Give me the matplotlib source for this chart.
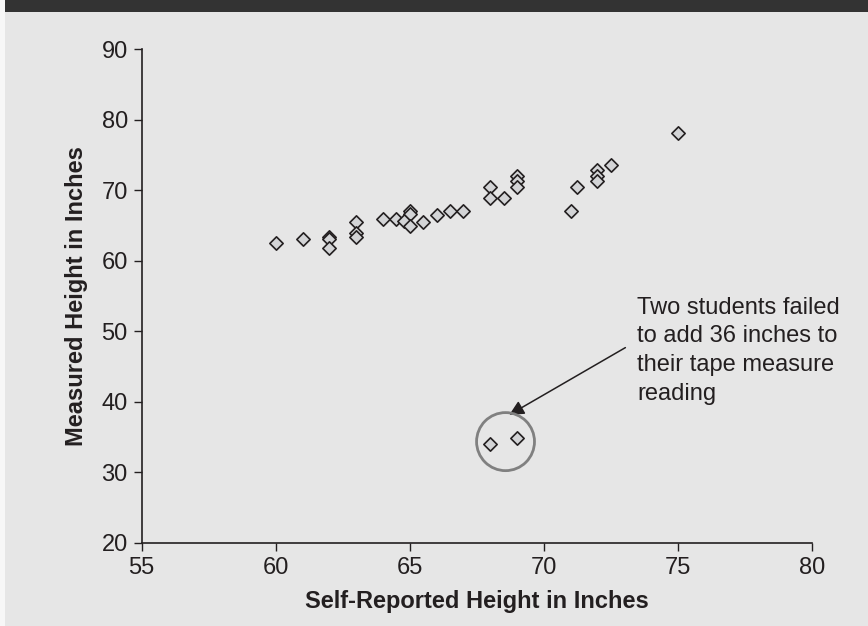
import matplotlib
matplotlib.use("Agg")
import matplotlib.pyplot as plt
from matplotlib.patches import Ellipse, Rectangle

# Self-reported vs measured height (inches)
self_reported = [60, 61, 62, 62, 62, 63, 63, 63, 64, 64.5, 65, 65, 64.8, 65,
                 65.5, 66, 66.5, 67, 68, 68, 68.5, 69, 69, 69, 71, 71.25,
                 72, 72, 72, 72.5, 75, 68, 69]
measured = [62.5, 63.1, 63.4, 63.0, 61.8, 65.5, 63.9, 63.4, 65.9, 65.9, 67.1,
            66.6, 65.6, 64.9, 65.5, 66.5, 67.05, 67.05, 70.4, 68.85, 68.85,
            72.0, 71.35, 70.4, 67.05, 70.4, 72.9, 72.0, 71.3, 73.5, 78.1,
            34.0, 34.9]

x_ticks = [55, 60, 65, 70, 75, 80]
y_ticks = [20, 30, 40, 50, 60, 70, 80, 90]

note = "Two students failed\nto add 36 inches to\ntheir tape measure\nreading"

plt.rcParams["font.family"] = ["Liberation Sans", "DejaVu Sans"]

BG = "#e6e6e6"
INK = "#231f20"

fig = plt.figure(figsize=(8.68, 6.26), dpi=100, facecolor=BG)

# white strip on the left and dark banner on top
fig.patches.append(Rectangle((0, 0), 5 / 868, 1, transform=fig.transFigure,
                             facecolor="#f7f7f7", edgecolor="none", zorder=0))
fig.patches.append(Rectangle((5 / 868, 1 - 12 / 626), 1, 12 / 626,
                             transform=fig.transFigure, facecolor="#333333",
                             edgecolor="none", zorder=0))

ax = fig.add_axes([0.1632, 0.1331, 0.7723, 0.7886])
ax.set_facecolor(BG)

ax.scatter(self_reported, measured, marker="D", s=46, facecolor="#d3d4d6",
           edgecolor=INK, linewidth=1.2, zorder=3)

ax.set_xlim(55, 80)
ax.set_ylim(20, 90)
ax.set_xticks(x_ticks)
ax.set_yticks(y_ticks)

for side in ("top", "right"):
    ax.spines[side].set_visible(False)
for side in ("left", "bottom"):
    ax.spines[side].set_color(INK)
    ax.spines[side].set_linewidth(1.2)
ax.tick_params(direction="out", length=6, width=1.0, color=INK,
               labelsize=17, labelcolor=INK, pad=4)

ax.set_xlabel("Self-Reported Height in Inches", fontsize=17, fontweight="bold",
              color=INK, labelpad=8)
ax.set_ylabel("Measured Height in Inches", fontsize=17, fontweight="bold",
              color=INK, labelpad=10)

# circle round the two outliers (circle in pixels, so an ellipse in data units)
ax.add_patch(Ellipse((68.57, 34.33), width=2.16, height=8.23, fill=False,
                     edgecolor="#808080", linewidth=2.0, zorder=4))

ax.annotate("", xy=(68.71, 38.13), xytext=(73.04, 47.66),
            arrowprops=dict(arrowstyle="-|>", color=INK, lw=1.1,
                            mutation_scale=22, shrinkA=0, shrinkB=0))
ax.text(73.47, 54.9, note, ha="left", va="top", fontsize=17, color=INK,
        linespacing=1.4)

fig.savefig("out.png", dpi=100, facecolor=BG)
